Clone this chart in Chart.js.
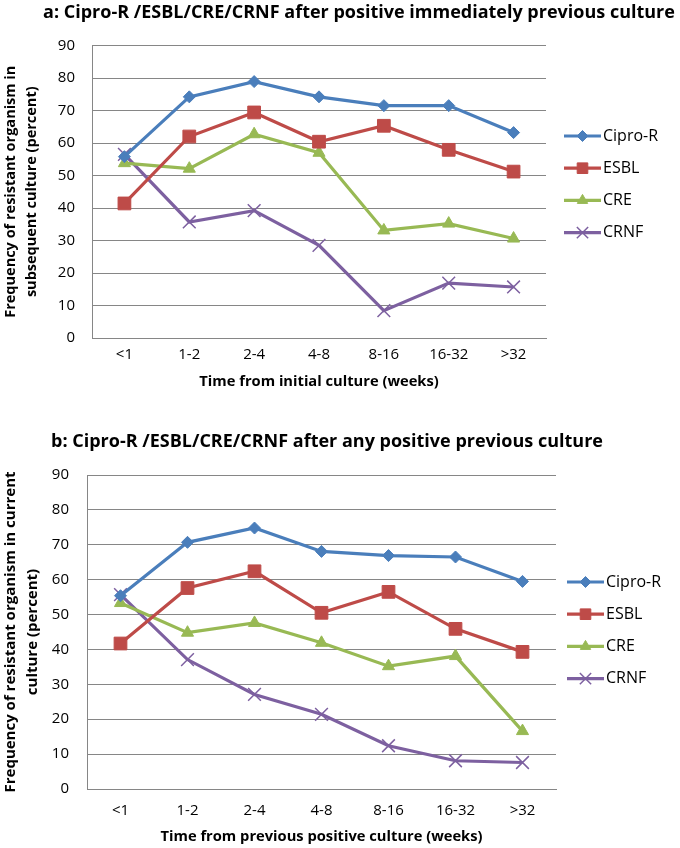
<!DOCTYPE html>
<html>
<head>
<meta charset="utf-8">
<script src="https://cdn.jsdelivr.net/npm/chart.js@4.4.0/dist/chart.umd.min.js"></script>
<style>
  html, body { margin: 0; padding: 0; background: #fff; }
  #wrap { position: relative; width: 680px; height: 848px; }
  canvas { position: absolute; left: 0; }
</style>
</head>
<body>
<div id="wrap">
  <canvas id="chartA" width="680" height="395" style="top:0"></canvas>
  <canvas id="chartB" width="680" height="453" style="top:395px"></canvas>
</div>
<script>
// categories and values (percent)
const categories = ['<1', '1-2', '2-4', '4-8', '8-16', '16-32', '>32'];
const seriesNames = ['Cipro-R', 'ESBL', 'CRE', 'CRNF'];

// panel a: after positive immediately previous culture
const ciproA = [55.8, 74.2, 78.9, 74.2, 71.5, 71.5, 63.2];
const esblA  = [41.4, 62.0, 69.4, 60.4, 65.3, 57.9, 51.2];
const creA   = [53.8, 52.1, 62.7, 57.0, 33.1, 35.2, 30.6];
const crnfA  = [56.5, 35.7, 39.2, 28.5, 8.4, 16.9, 15.7];

// panel b: after any positive previous culture
const ciproB = [55.4, 70.7, 74.8, 68.1, 66.9, 66.5, 59.5];
const esblB  = [41.7, 57.6, 62.4, 50.5, 56.5, 45.9, 39.3];
const creB   = [53.3, 44.8, 47.6, 41.9, 35.2, 38.1, 16.6];
const crnfB  = [55.7, 37.1, 27.1, 21.4, 12.4, 8.1, 7.6];

const yMin = 0, yMax = 90, yStep = 10;

const FONT = '"Open Sans", "DejaVu Sans", sans-serif';
const GRID = '#868686';

// marker look per series (legend markers are a bit smaller, like Excel)
const styles = [
  { color: '#4A7EBB', pointStyle: 'rectRot', radius: 6, legendRadius: 5.5, pbw: 1 },
  { color: '#BE4B48', pointStyle: 'rect', radius: 9, legendRadius: 7.5, pbw: 1 },
  { color: '#98B954', pointStyle: 'triangle', radius: 7, legendRadius: 6, pbw: 1 },
  { color: '#7D60A0', pointStyle: 'crossRot', radius: 9, legendRadius: 8, pbw: 1.5 }
];

function makeDatasets(values) {
  return values.map((vals, i) => ({
    label: seriesNames[i],
    data: vals,
    borderColor: styles[i].color,
    backgroundColor: styles[i].color,
    borderWidth: 3.2,
    tension: 0,
    pointStyle: styles[i].pointStyle,
    pointRadius: styles[i].radius,
    pointBackgroundColor: styles[i].color,
    pointBorderColor: styles[i].color,
    pointBorderWidth: styles[i].pbw
  }));
}

// titles and Excel-style legend (line + marker)
const decorPlugin = {
  id: 'decor',
  afterDraw(chart, args, opts) {
    const ctx = chart.ctx;
    ctx.save();
    ctx.fillStyle = '#000';
    ctx.font = 'bold 18px ' + FONT;
    ctx.textAlign = 'center';
    ctx.textBaseline = 'middle';
    ctx.fillText(opts.title, opts.titleX, opts.titleY);

    chart.data.datasets.forEach((ds, i) => {
      const y = opts.legendY + i * opts.legendGap;
      const x0 = opts.legendX, x1 = x0 + 37;
      ctx.strokeStyle = ds.borderColor;
      ctx.lineWidth = ds.borderWidth;
      ctx.beginPath();
      ctx.moveTo(x0, y);
      ctx.lineTo(x1, y);
      ctx.stroke();
      ctx.fillStyle = ds.pointBackgroundColor;
      ctx.strokeStyle = ds.pointBorderColor;
      ctx.lineWidth = ds.pointBorderWidth;
      Chart.helpers.drawPoint(ctx, {
        pointStyle: ds.pointStyle,
        radius: styles[i].legendRadius,
        rotation: 0,
        borderWidth: ds.pointBorderWidth
      }, (x0 + x1) / 2, y);
      ctx.fillStyle = '#000';
      ctx.font = '16px ' + FONT;
      ctx.textAlign = 'left';
      ctx.fillText(ds.label, x1 + 2, y);
    });
    ctx.restore();
  }
};

function makeChart(id, values, p) {
  const canvas = document.getElementById(id);
  return new Chart(canvas.getContext('2d'), {
    type: 'line',
    data: { labels: categories, datasets: makeDatasets(values) },
    options: {
      responsive: false,
      animation: false,
      layout: { padding: { top: p.plotTop, right: 680 - p.plotRight, left: 0, bottom: 0 } },
      plugins: {
        legend: { display: false },
        tooltip: { enabled: false },
        decor: p.decor
      },
      scales: {
        x: {
          offset: true,
          grid: { display: false, drawTicks: false },
          border: { display: true, color: GRID, width: 1 },
          ticks: { color: '#000', font: { family: FONT, size: 15 }, padding: p.xTickPad, maxRotation: 0 },
          title: {
            display: true, text: p.xTitle, color: '#000',
            font: { family: FONT, size: 14.7, weight: 'bold' },
            padding: { top: 0, bottom: p.xTitlePad }
          },
          afterFit: s => { s.height = p.height - p.plotBottom; }
        },
        y: {
          min: yMin, max: yMax,
          grid: { color: GRID, lineWidth: 1, drawTicks: false },
          border: { display: true, color: GRID, width: 1 },
          ticks: { stepSize: yStep, color: '#000', font: { family: FONT, size: 15 }, padding: p.yTickPad },
          title: {
            display: true, text: p.yTitle, color: '#000',
            font: { family: FONT, size: p.yTitleSize, weight: 'bold', lineHeight: 1.45 },
            padding: { top: 0, bottom: 0 }
          },
          afterFit: s => { s.width = p.plotLeft; }
        }
      }
    },
    plugins: [decorPlugin]
  });
}

makeChart('chartA', [ciproA, esblA, creA, crnfA], {
  height: 395, plotTop: 45.5, plotBottom: 338, plotLeft: 92, plotRight: 546,
  xTickPad: 8, xTitlePad: 4, yTickPad: 17, yTitleSize: 14.5,
  xTitle: 'Time from initial culture (weeks)',
  yTitle: ['Frequency of resistant organism in', 'subsequent culture (percent)'],
  decor: {
    title: 'a: Cipro-R /ESBL/CRE/CRNF after positive immediately previous culture',
    titleX: 359, titleY: 13,
    legendX: 564, legendY: 136, legendGap: 32.2
  }
});

makeChart('chartB', [ciproB, esblB, creB, crnfB], {
  height: 453, plotTop: 80, plotBottom: 394, plotLeft: 87, plotRight: 556,
  xTickPad: 13, xTitlePad: 2, yTickPad: 18, yTitleSize: 15,
  xTitle: 'Time from previous positive culture (weeks)',
  yTitle: ['Frequency of resistant organism in current', 'culture (percent)'],
  decor: {
    title: 'b: Cipro-R /ESBL/CRE/CRNF after any positive previous culture',
    titleX: 327, titleY: 47,
    legendX: 567, legendY: 187, legendGap: 32.2
  }
});
</script>
</body>
</html>
